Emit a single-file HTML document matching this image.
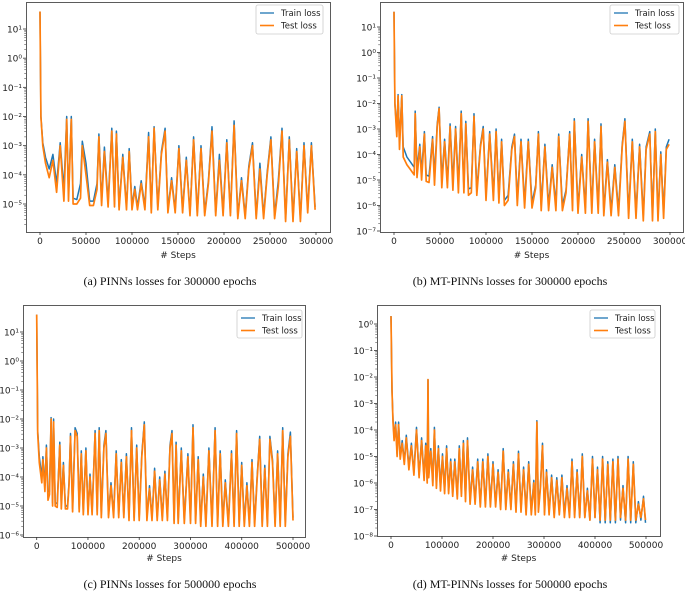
<!DOCTYPE html>
<html><head><meta charset="utf-8">
<style>
body{margin:0;background:#fff;width:685px;height:592px;overflow:hidden}
svg{position:absolute;left:0;top:0}
text{font-family:"DejaVu Sans","Liberation Sans",sans-serif;fill:#222}
.cap{font-family:"Liberation Serif",serif;font-size:12px;fill:#111}
</style></head><body>
<svg id="fig" width="685" height="592"></svg>
<script>
const xA=[0,1000,3000,6000,10000,14000,18000,22000,26000,29000,31000,34000,36000,40000,44000,46000,50000,54000,58000,62000,64000,67000,70000,74000,78000,81000,83000,86000,90000,94000,97000,100000,103000,106000,110000,114000,118000,121000,124000,128000,132000,136000,139000,143000,147000,151000,155000,159000,163000,167000,171000,175000,179000,183000,187000,191000,195000,199000,203000,207000,211000,215000,219000,223000,227000,231000,235000,239000,243000,247000,251000,255000,259000,263000,267000,271000,275000,279000,283000,287000,291000,295000,299000];
const testA=[1.6,-2,-3,-3.6,-4.1,-3.5,-4.6,-3,-4.9,-2.1,-4.9,-2.1,-5,-5,-4.8,-3,-4,-5.05,-5.05,-4.5,-2.7,-5.05,-3.2,-5.1,-2.5,-5.1,-2.6,-5.2,-3.4,-5.2,-3.2,-5.2,-4.5,-5.2,-4.3,-5.2,-2.7,-5.3,-2.4,-5.2,-3.3,-2.5,-5.3,-4.2,-5.3,-3.1,-5.3,-3.5,-5.4,-2.8,-5.4,-3.1,-5.4,-4.3,-2.5,-5.4,-3.5,-5.4,-2.9,-5.4,-2.3,-5.5,-4.2,-5.5,-3.8,-3,-5.5,-3.8,-5.5,-4,-2.8,-5.5,-4.4,-2.5,-5.6,-2.8,-5.6,-3.2,-5.6,-3,-5.3,-3,-5.2];
const trainA=[1.6,-2,-2.9,-3.4,-3.8,-3.3,-4.3,-2.9,-4.5,-2,-4.7,-2,-4.8,-4.85,-4.3,-2.85,-3.6,-4.9,-4.9,-4.3,-2.6,-4.9,-3.05,-4.95,-2.4,-5,-2.5,-5.1,-3.3,-5.1,-3.1,-5.1,-4.4,-5.1,-4.2,-5.1,-2.55,-5.2,-2.35,-5.1,-3.2,-2.4,-5.2,-4.1,-5.2,-3,-5.2,-3.4,-5.3,-2.7,-5.3,-3,-5.3,-4.2,-2.35,-5.3,-3.3,-5.3,-2.8,-5.3,-2.15,-5.4,-4.1,-5.4,-3.7,-2.9,-5.4,-3.6,-5.4,-3.9,-2.7,-5.4,-4.2,-2.4,-5.5,-2.7,-5.5,-3.1,-5.5,-2.9,-5.2,-2.9,-5.1];

const xB=[0,1000,3000,4500,6000,8500,10000,14000,18000,22000,23000,25000,28000,30000,33000,35000,38000,42000,44000,47000,49000,52000,55000,58000,61000,64000,67000,70000,73000,76000,78000,81000,84000,87000,90000,94000,97000,100000,104000,108000,111000,114000,117000,120000,124000,128000,131000,134000,138000,142000,146000,150000,154000,157000,160000,164000,168000,172000,176000,179000,183000,187000,191000,194000,196000,200000,204000,208000,211000,215000,218000,222000,225000,228000,232000,236000,240000,244000,248000,251000,255000,259000,263000,267000,271000,274000,278000,281000,284000,287000,290000,293000,296000,299000];
const testB=[1.6,-2,-3.3,-1.7,-3.8,-1.7,-4.1,-4.4,-4.6,-4.8,-2.4,-4.9,-3.7,-5,-3.2,-5.05,-5.1,-3.4,-5.2,-2.9,-2.2,-5.3,-3.5,-5.3,-2.9,-5.4,-3,-5.5,-2.4,-5.5,-2.8,-5.6,-5.5,-2.5,-5.6,-3.7,-3,-5.8,-3.2,-5.8,-3.1,-5.9,-3.5,-6,-5.8,-3.8,-3.3,-6,-3.5,-6.1,-3.5,-6.1,-5.3,-3.2,-6.2,-3.7,-6.2,-4.5,-6.2,-3.3,-6.2,-5.5,-3.2,-6.2,-2.7,-6.3,-4.1,-6.3,-2.7,-6.3,-3.5,-6.3,-2.9,-6.4,-4.3,-6.4,-4.5,-6.4,-3.7,-2.7,-6.5,-3.5,-6.5,-3.7,-6.6,-3.8,-3.2,-6.6,-3.1,-6.6,-4,-6.5,-3.8,-3.6];
const trainB=[1.6,-2,-3.1,-1.65,-3.5,-1.65,-3.7,-4.1,-4.3,-4.5,-2.3,-4.6,-3.6,-4.7,-3.1,-4.8,-4.85,-3.3,-4.9,-2.8,-2.15,-5,-3.4,-5.05,-2.8,-5.1,-2.9,-5.2,-2.3,-5.3,-2.7,-5.35,-5.3,-2.4,-5.4,-3.6,-2.9,-5.6,-3.1,-5.6,-3,-5.7,-3.4,-5.8,-5.6,-3.7,-3.2,-5.8,-3.4,-5.9,-3.4,-5.9,-5.2,-3.1,-6,-3.6,-6,-4.4,-6,-3.2,-6,-5.4,-3.1,-6,-2.6,-6.1,-4,-6.1,-2.6,-6.1,-3.4,-6.1,-2.8,-6.2,-4.2,-6.2,-4.4,-6.2,-3.6,-2.6,-6.3,-3.4,-6.3,-3.6,-6.4,-3.7,-3.1,-6.4,-3,-6.4,-3.9,-6.3,-3.7,-3.4];

const xC=[0,2000,5000,10000,12000,16000,19000,22000,25000,28000,31000,33000,36000,40000,45000,48000,52000,56000,60000,63000,66000,70000,75000,79000,83000,87000,91000,96000,100000,104000,108000,114000,118000,122000,126000,131000,135000,140000,145000,150000,155000,160000,165000,170000,175000,180000,185000,190000,195000,200000,205000,210000,215000,220000,225000,230000,235000,240000,245000,250000,255000,260000,264000,268000,272000,276000,282000,288000,295000,300000,305000,310000,315000,320000,325000,330000,336000,342000,348000,353000,358000,363000,368000,374000,380000,385000,390000,395000,400000,405000,410000,415000,420000,425000,430000,435000,440000,445000,450000,455000,460000,465000,470000,475000,480000,485000,490000,495000,500000];
const testC=[1.6,-2.5,-3.5,-4.2,-3.4,-4.5,-3,-4.8,-4.6,-2,-5,-2.1,-5,-5.05,-2.9,-5.1,-3.6,-5.1,-5.1,-4.3,-2.6,-5.2,-2.4,-2.6,-5.2,-3.2,-5.3,-3.1,-5.3,-4,-5.3,-2.5,-5.3,-2.4,-5.4,-3,-2.5,-5.4,-4.3,-5.4,-3.2,-5.4,-3.5,-5.4,-3.3,-5.5,-2.4,-5.5,-3,-5.5,-3.3,-2.2,-5.5,-4.4,-5.5,-3.8,-5.5,-4.1,-5.5,-3.9,-5.5,-3,-2.5,-5.6,-2.9,-5.6,-3.1,-5.6,-3.3,-5.6,-2.3,-5.6,-3.4,-5.7,-4,-5.7,-3.1,-5.7,-2.4,-5.7,-3.2,-5.7,-4.2,-5.7,-3.2,-5.7,-2.5,-5.7,-3.6,-5.7,-4.3,-5.7,-3.5,-5.7,-4.1,-2.7,-5.7,-3.7,-5.7,-2.7,-3.5,-5.7,-3.2,-5.7,-2.4,-5.7,-3.3,-2.6,-5.5];
const trainC=[1.6,-2.4,-3.3,-4,-3.3,-4.3,-2.9,-4.5,-4.5,-1.95,-4.9,-2,-4.9,-4.9,-2.8,-4.95,-3.5,-5,-5,-4.2,-2.5,-5.1,-2.3,-2.5,-5.1,-3.1,-5.2,-3,-5.2,-3.9,-5.2,-2.4,-5.2,-2.3,-5.3,-2.9,-2.4,-5.3,-4.2,-5.3,-3.1,-5.3,-3.4,-5.3,-3.2,-5.4,-2.3,-5.4,-2.9,-5.4,-3.2,-2.1,-5.4,-4.3,-5.4,-3.7,-5.4,-4,-5.4,-3.8,-5.4,-2.9,-2.4,-5.5,-2.8,-5.5,-3,-5.5,-3.2,-5.5,-2.2,-5.5,-3.3,-5.6,-3.9,-5.6,-3,-5.6,-2.3,-5.6,-3.1,-5.6,-4.1,-5.6,-3.1,-5.6,-2.4,-5.6,-3.5,-5.6,-4.2,-5.6,-3.4,-5.6,-4,-2.6,-5.6,-3.6,-5.6,-2.6,-3.4,-5.6,-3.1,-5.6,-2.3,-5.6,-3.2,-2.45,-5.4];

const xD=[0,2000,4000,6000,9000,12000,15000,18000,22000,26000,30000,35000,40000,45000,50000,55000,60000,65000,68000,71000,72500,74000,78000,82000,85000,89000,93000,97000,101000,105000,109000,113000,117000,121000,125000,130000,134000,138000,142000,146000,150000,155000,160000,165000,170000,175000,180000,185000,190000,195000,200000,205000,210000,215000,220000,225000,230000,235000,240000,245000,250000,255000,260000,265000,270000,275000,280000,283000,286000,289000,293000,297000,301000,305000,310000,315000,320000,325000,330000,335000,340000,345000,350000,355000,360000,365000,370000,375000,380000,385000,390000,395000,400000,405000,410000,415000,420000,425000,430000,435000,440000,445000,450000,455000,460000,465000,470000,475000,480000,485000,490000,495000,499000];
const testD=[0.3,-2.5,-3.7,-4.4,-3.8,-5,-3.8,-5.1,-4.5,-5.3,-4.3,-5.5,-4.6,-5.7,-4,-5.8,-4.4,-5.9,-4.6,-6,-2.1,-5.8,-4.8,-6.1,-4,-6.2,-4.7,-6.3,-5,-6.4,-4.7,-6.4,-5.2,-6.5,-5.2,-6.6,-4.7,-6.5,-4.5,-6.7,-4.4,-6.8,-5.5,-6.8,-5.2,-6.9,-5.2,-6.9,-5,-6.9,-5.3,-6.9,-5.6,-7,-4.8,-7,-5.6,-7,-5.3,-7.1,-4.9,-7.1,-5.5,-7.2,-5.3,-7.2,-6,-7.2,-3.7,-7.1,-6.2,-4.6,-7.2,-5.6,-7.2,-5.8,-7.3,-5.9,-7.2,-5.8,-7.3,-6.2,-7.3,-5.2,-7.3,-5.6,-7.3,-5,-7.3,-6.3,-7.4,-5.1,-7.3,-5.5,-7.4,-5.1,-7.4,-5.3,-7.4,-5.2,-7.4,-5.1,-7.3,-6.2,-7.4,-5.1,-7.4,-5.3,-7.4,-6.8,-7.3,-6.6,-7.4];
const trainD=[0.3,-2.5,-3.6,-4.3,-3.7,-4.9,-3.7,-5,-4.4,-5.2,-4.2,-5.4,-4.5,-5.6,-3.9,-5.7,-4.3,-5.8,-4.5,-5.9,-2.1,-5.7,-4.7,-6,-3.9,-6.1,-4.6,-6.2,-4.9,-6.3,-4.6,-6.3,-5.1,-6.4,-5.1,-6.5,-4.6,-6.4,-4.4,-6.6,-4.3,-6.7,-5.4,-6.7,-5.1,-6.8,-5.1,-6.8,-4.9,-6.8,-5.2,-6.8,-5.5,-6.9,-4.7,-6.9,-5.5,-6.9,-5.2,-7,-4.8,-7,-5.4,-7.1,-5.2,-7.1,-5.9,-7.1,-3.65,-7,-6.1,-4.5,-7.1,-5.5,-7.1,-5.7,-7.2,-5.8,-7.1,-5.7,-7.2,-6.1,-7.2,-5.1,-7.2,-5.5,-7.3,-4.9,-7.3,-6.2,-7.4,-5,-7.3,-5.4,-7.5,-5,-7.5,-5.2,-7.5,-5.1,-7.5,-5,-7.4,-6.1,-7.5,-5,-7.5,-5.2,-7.5,-6.7,-7.4,-6.5,-7.5];

const xTicksA=[0,50000,100000,150000,200000,250000,300000];
const xTicksC=[0,100000,200000,300000,400000,500000];

const panels=[
 {id:'a',frame:[26,2,330,232],x0:40,x1:316,xmax:300000,d0:1,y0:29,d1:-5,y1:204,dTop:1,dBot:-5,xs:xA,test:testA,train:trainA,xt:xTicksA,leg:[256,5,67,29],cap:'(a) PINNs losses for 300000 epochs',capx:170,capy:285,lbl:258},
 {id:'b',frame:[380,2,683,232],x0:394,x1:670,xmax:300000,d0:1,y0:27,d1:-7,y1:231,dTop:1,dBot:-7,xs:xB,test:testB,train:trainB,xt:xTicksA,leg:[610,5,69,29],cap:'(b) MT-PINNs losses for 300000 epochs',capx:510,capy:285,lbl:258},
 {id:'c',frame:[23,305,305,537],x0:36.7,x1:293,xmax:500000,d0:1,y0:332,d1:-6,y1:535,dTop:1,dBot:-6,xs:xC,test:testC,train:trainC,xt:xTicksC,leg:[237,310,65,28],cap:'(c) PINNs losses for 500000 epochs',capx:170,capy:588,lbl:561},
 {id:'d',frame:[377,305,660,536],x0:391,x1:646,xmax:500000,d0:0,y0:324,d1:-8,y1:536,dTop:0,dBot:-8,xs:xD,test:testD,train:trainD,xt:xTicksC,leg:[590,310,65,28],cap:'(d) MT-PINNs losses for 500000 epochs',capx:510,capy:588,lbl:561}
];
const NS='http://www.w3.org/2000/svg';
const svg=document.getElementById('fig');
function mk(tag,attrs,parent){const e=document.createElementNS(NS,tag);for(const k in attrs)e.setAttribute(k,attrs[k]);(parent||svg).appendChild(e);return e;}
const sup=['⁰','¹','²','³','⁴','⁵','⁶','⁷','⁸','⁹'];
panels.forEach(p=>{
 const g=mk('g',{});
 
 
 const sx=v=>p.x0+(v/p.xmax)*(p.x1-p.x0);
 const sy=d=>p.y0+(d-p.d0)*(p.y1-p.y0)/(p.d1-p.d0);
 const [fx0,fy0,fx1,fy1]=p.frame;
 const cp=mk('clipPath',{id:'clip'+p.id},g);mk('rect',{x:fx0,y:fy0,width:fx1-fx0,height:fy1-fy0},cp);
 const line=(vals,col,w,name)=>{
  const pts=p.xs.map((x,i)=>sx(x).toFixed(1)+','+sy(vals[i]).toFixed(1)).join(' ');
  const pl=mk('polyline',{points:pts,fill:'none',stroke:col,'stroke-width':w,'stroke-linejoin':'round','clip-path':'url(#clip'+p.id+')'},g);
  
  
 };
 line(p.train,'#1f77b4',1.5,'train-loss-line');
 line(p.test,'#ff7f0e',1.7,'test-loss-line');
 const fr=mk('rect',{x:fx0+0.5,y:fy0+0.5,width:fx1-fx0,height:fy1-fy0,fill:'none',stroke:'#333','stroke-width':0.8},g);
 
 
 for(let d=p.dTop;d>=p.dBot;d--){
  const y=sy(d);
  if(y<fy0-1||y>fy1+1)continue;
  mk('line',{x1:fx0-3,x2:fx0,y1:y,y2:y,stroke:'#333','stroke-width':0.8},g);
  const s=d<0?'⁻'+sup[-d]:sup[d];
  const t=mk('text',{x:fx0-4,y:y+3.5,'font-size':9,'text-anchor':'end'},g);
  t.textContent='10'+s;
  
  
  for(let m=2;m<10;m++){const ym=sy(d-1+Math.log10(m));if(ym>fy0&&ym<fy1)mk('line',{x1:fx0-1.8,x2:fx0,y1:ym,y2:ym,stroke:'#333','stroke-width':0.5},g);}
 }
 p.xt.forEach(v=>{
  const x=sx(v);
  mk('line',{x1:x,x2:x,y1:fy1,y2:fy1+3,stroke:'#333','stroke-width':0.8},g);
  const t=mk('text',{x:x,y:fy1+12,'font-size':9,'text-anchor':'middle'},g);
  t.textContent=String(v);
  
  
 });
 const xl=mk('text',{x:(fx0+fx1)/2,y:p.lbl,'font-size':9,'text-anchor':'middle'},g);
 xl.textContent='# Steps';
 
 
 const [lx,ly,lw,lh]=p.leg;
 const lg=mk('g',{},g);
 
 
 mk('rect',{x:lx,y:ly,width:lw,height:lh,fill:'#fff',stroke:'#ccc','stroke-width':0.8,rx:2},lg);
 mk('line',{x1:lx+4,x2:lx+18,y1:ly+8,y2:ly+8,stroke:'#1f77b4','stroke-width':1.3},lg);
 mk('line',{x1:lx+4,x2:lx+18,y1:ly+20.5,y2:ly+20.5,stroke:'#ff7f0e','stroke-width':1.6},lg);
 const t1=mk('text',{x:lx+25,y:ly+11,'font-size':8.5},lg);t1.textContent='Train loss';
 
 
 const t2=mk('text',{x:lx+25,y:ly+23.5,'font-size':8.5},lg);t2.textContent='Test loss';
 
 
 const c=mk('text',{x:p.capx,y:p.capy,'text-anchor':'middle',class:'cap'},g);
 c.textContent=p.cap;
 
 
});
</script>
</body></html>
